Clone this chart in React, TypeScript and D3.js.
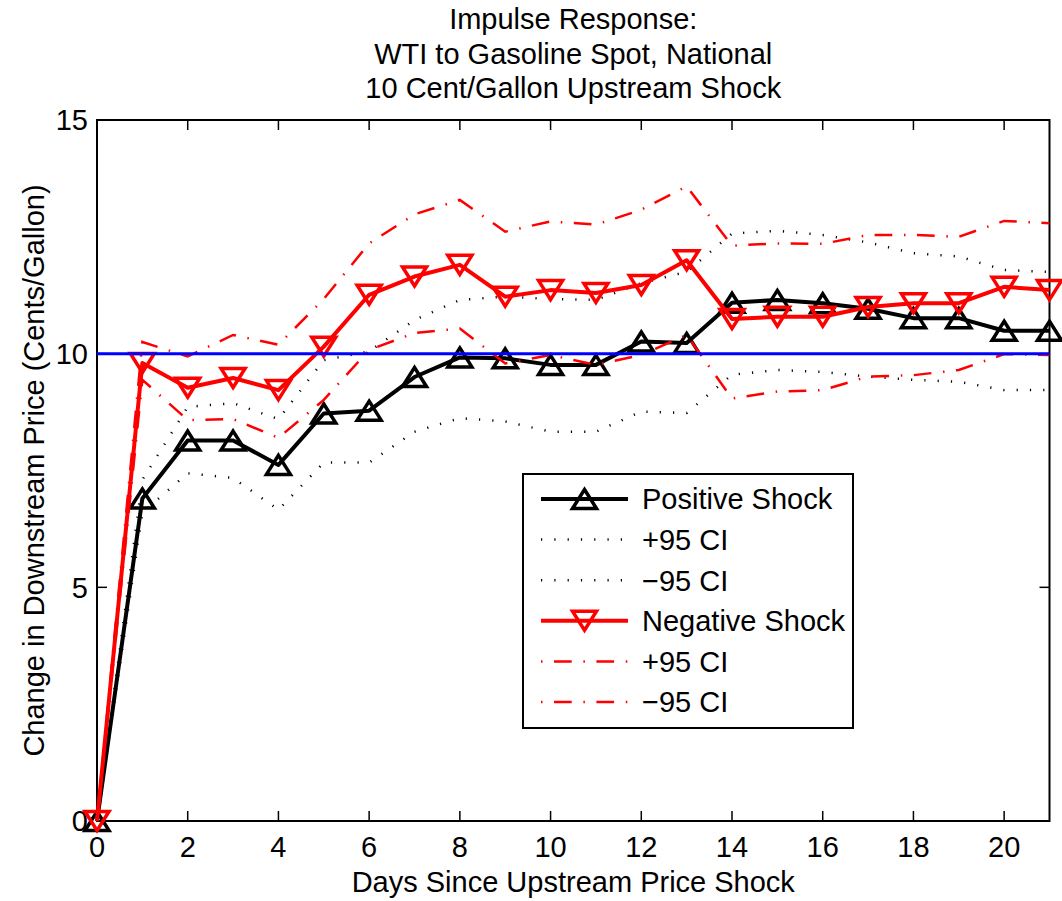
import React from "react";
import * as d3 from "d3";

const days = [0, 1, 2, 3, 4, 5, 6, 7, 8, 9, 10, 11, 12, 13, 14, 15, 16, 17, 18, 19, 20, 21];
const positive = [0, 6.9, 8.14, 8.14, 7.62, 8.72, 8.78, 9.5, 9.92, 9.9, 9.76, 9.76, 10.26, 10.23, 11.09, 11.15, 11.08, 10.96, 10.76, 10.76, 10.49, 10.49];
const posUpper = [0, 7.3, 8.86, 8.94, 8.6, 9.86, 10.05, 10.72, 11.15, 11.22, 11.17, 11.15, 11.51, 11.75, 12.57, 12.63, 12.54, 12.38, 12.15, 12.08, 11.79, 11.75];
const posLower = [0, 6.6, 7.44, 7.34, 6.66, 7.67, 7.67, 8.33, 8.62, 8.55, 8.33, 8.33, 8.76, 8.73, 9.55, 9.65, 9.61, 9.51, 9.44, 9.4, 9.22, 9.22];
const negative = [0, 9.8, 9.27, 9.48, 9.22, 10.15, 11.26, 11.65, 11.9, 11.22, 11.36, 11.3, 11.47, 12.0, 10.74, 10.79, 10.79, 11.0, 11.08, 11.08, 11.43, 11.36];
const negUpper = [0, 10.25, 9.94, 10.4, 10.19, 11.17, 12.36, 12.98, 13.29, 12.61, 12.83, 12.76, 13.08, 13.58, 12.31, 12.36, 12.35, 12.54, 12.54, 12.5, 12.84, 12.79];
const negLower = [0, 9.44, 8.58, 8.6, 8.2, 9.01, 10.08, 10.44, 10.54, 9.79, 9.97, 9.76, 9.97, 10.4, 9.04, 9.19, 9.22, 9.51, 9.54, 9.65, 9.99, 9.97];
const referenceLevel = 10;
const xTicks = [0, 2, 4, 6, 8, 10, 12, 14, 16, 18, 20];
const yTicks = [0, 5, 10, 15];
const titleLines = ["Impulse Response:", "WTI to Gasoline Spot, National", "10 Cent/Gallon Upstream Shock"];
const xLabel = "Days Since Upstream Price Shock";
const yLabel = "Change in Downstream Price (Cents/Gallon)";
const legendLabels = ["Positive Shock", "+95 CI", "\u221295 CI", "Negative Shock", "+95 CI", "\u221295 CI"];

const FONT = "'Liberation Sans', Arial, Helvetica, sans-serif";
const FS = 29;

const L = 97, R = 1049.5, T = 120, B = 821;

const triUp = "M0,-9.5L12,9.5L-12,9.5Z";
const triDown = "M0,9.5L12,-9.5L-12,-9.5Z";

const DOT = "1.2 12.1";
const DASHDOT = "1.5 11.5 17.7 11.7";

export default function App() {
  const x = d3.scaleLinear().domain([0, 21]).range([L, R]);
  const y = d3.scaleLinear().domain([0, 15]).range([B, T]);
  const line = (vals: number[]) =>
    d3.line<number>().x((_, i) => x(days[i])).y((v) => y(v))(vals) || "";

  const legendX0 = 541, legendX1 = 628, legendTextX = 642;
  const legendRows = [499, 539.6, 580.2, 620.8, 661.4, 702];
  const legendStyles = [
    { stroke: "#000", w: 4, dash: undefined as string | undefined, marker: triUp },
    { stroke: "#000", w: 2.5, dash: DOT, marker: null as string | null },
    { stroke: "#000", w: 2.5, dash: DOT, marker: null },
    { stroke: "#ff0000", w: 4, dash: undefined, marker: triDown },
    { stroke: "#ff0000", w: 2.5, dash: DASHDOT, marker: null },
    { stroke: "#ff0000", w: 2.5, dash: DASHDOT, marker: null },
  ];

  return (
    <svg
      width={1062}
      height={901}
      style={{ position: "absolute", left: 0, top: 0, background: "#fff" }}
      fontFamily={FONT}
    >
      <rect x={0} y={0} width={1062} height={901} fill="#fff" />
      {/* title */}
      {titleLines.map((t, i) => (
        <text key={i} x={(L + R) / 2} y={29 + i * 34.7} fontSize={FS} textAnchor="middle" fill="#000">
          {t}
        </text>
      ))}

      {/* axes frame */}
      <rect x={L} y={T} width={R - L} height={B - T} fill="none" stroke="#000" strokeWidth={2} />
      {xTicks.map((t) => (
        <g key={"xt" + t}>
          <line x1={x(t)} x2={x(t)} y1={B} y2={B - 10} stroke="#000" strokeWidth={1.5} />
          <line x1={x(t)} x2={x(t)} y1={T} y2={T + 10} stroke="#000" strokeWidth={1.5} />
          <text x={x(t)} y={857} fontSize={FS} textAnchor="middle" fill="#000">
            {t}
          </text>
        </g>
      ))}
      {yTicks.map((t) => (
        <g key={"yt" + t}>
          <line x1={L} x2={L + 10} y1={y(t)} y2={y(t)} stroke="#000" strokeWidth={1.5} />
          <line x1={R} x2={R - 10} y1={y(t)} y2={y(t)} stroke="#000" strokeWidth={1.5} />
          <text x={88} y={y(t) + 10.4} fontSize={FS} textAnchor="end" fill="#000">
            {t}
          </text>
        </g>
      ))}
      <text x={(L + R) / 2} y={892} fontSize={FS} textAnchor="middle" fill="#000">
        {xLabel}
      </text>
      <text
        transform={`translate(44,${(T + B) / 2}) rotate(-90)`}
        fontSize={FS}
        textAnchor="middle"
        fill="#000"
      >
        {yLabel}
      </text>

      {/* positive shock */}
      <path d={line(positive)} fill="none" stroke="#000" strokeWidth={4} strokeLinejoin="round" />
      {positive.map((v, i) => (
        <path key={"pm" + i} d={triUp} transform={`translate(${x(days[i])},${y(v)})`} fill="none" stroke="#000" strokeWidth={3.5} strokeLinejoin="miter" />
      ))}
      <path d={line(posUpper)} fill="none" stroke="#000" strokeWidth={2.5} strokeDasharray={DOT} />
      <path d={line(posLower)} fill="none" stroke="#000" strokeWidth={2.5} strokeDasharray={DOT} />

      {/* negative shock */}
      <path d={line(negative)} fill="none" stroke="#ff0000" strokeWidth={4} strokeLinejoin="round" />
      {negative.map((v, i) => (
        <path key={"nm" + i} d={triDown} transform={`translate(${x(days[i])},${y(v)})`} fill="none" stroke="#ff0000" strokeWidth={3.5} />
      ))}
      <path d={line(negUpper)} fill="none" stroke="#ff0000" strokeWidth={2.5} strokeDasharray={DASHDOT} />
      <path d={line(negLower)} fill="none" stroke="#ff0000" strokeWidth={2.5} strokeDasharray={DASHDOT} />

      {/* reference line */}
      <line x1={L} x2={R} y1={y(referenceLevel)} y2={y(referenceLevel)} stroke="#0000ff" strokeWidth={3} />

      {/* legend */}
      <rect x={523} y={474} width={330} height={254} fill="#fff" stroke="#000" strokeWidth={2} />
      {legendLabels.map((lab, i) => {
        const s = legendStyles[i];
        const cy = legendRows[i];
        return (
          <g key={"lg" + i}>
            <line x1={legendX0} x2={legendX1} y1={cy} y2={cy} stroke={s.stroke} strokeWidth={s.w} strokeDasharray={s.dash} />
            {s.marker && (
              <path d={s.marker} transform={`translate(${(legendX0 + legendX1) / 2},${cy})`} fill="none" stroke={s.stroke} strokeWidth={3.5} />
            )}
            <text x={legendTextX} y={cy + 10.4} fontSize={FS} fill="#000">
              {lab}
            </text>
          </g>
        );
      })}
    </svg>
  );
}
